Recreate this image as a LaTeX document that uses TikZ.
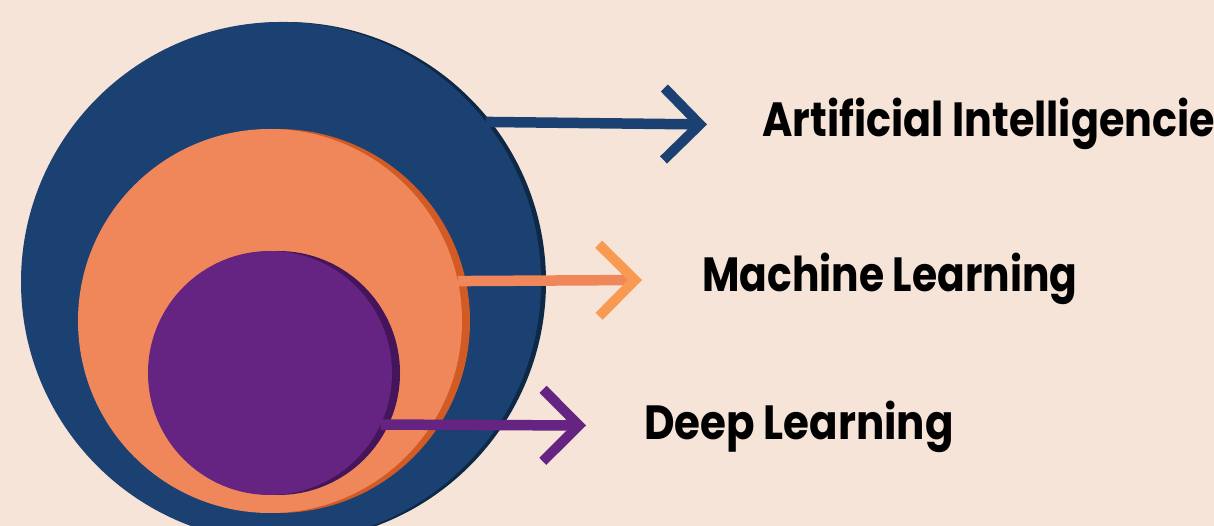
\documentclass[tikz,border=0pt]{standalone}
\usepackage{fontspec}
\setmainfont{Poppins}
\usepackage{xcolor}
\usepackage{tikz}
\usetikzlibrary{arrows.meta}

\definecolor{bgPeach}{HTML}{F6E4D8}
\definecolor{aiBlue}{HTML}{1A4172}
\definecolor{aiShade}{HTML}{0D2946}
\definecolor{mlOrange}{HTML}{F0875A}
\definecolor{mlShade}{HTML}{D25A24}
\definecolor{mlTip}{HTML}{F89A52}
\definecolor{dlPurple}{HTML}{652382}
\definecolor{dlShade}{HTML}{45155B}

\tikzset{
  disc/.style={circle, inner sep=0pt, outer sep=0pt, minimum size=#1},
  barb/.style={line width=10.5pt, -{Straight Barb[length=36pt, width=72pt, line width=10pt, #1]}},
  barb/.default={},
  tagtext/.style={anchor=base west, inner sep=0pt, xscale=#1, transform shape,
    font=\bfseries\fontsize{48}{50}\selectfont},
  tagtext/.default=0.86
}

\begin{document}
\begin{tikzpicture}[x=1pt, y=1pt]
    \fill [bgPeach] (0,0) rectangle (1214,526);
    \useasboundingbox (0,0) rectangle (1214,526);
    \clip (0,0) rectangle (1214,526);

    % outer disc
    \node [disc=520pt, fill=aiShade] (aiS) at (286,244) {};
    \node [disc=520pt, fill=aiBlue] (ai) at (281,244) {};
    % middle disc
    \node [disc=384pt, fill=mlShade] (mlS) at (278,205) {};
    \node [disc=384pt, fill=mlOrange] (ml) at (270,205) {};
    % inner disc
    \node [disc=244pt, fill=dlShade] (dlS) at (278,153) {};
    \node [disc=244pt, fill=dlPurple] (dl) at (270,153) {};

    \coordinate (aiTip) at (707,401.5);
    \coordinate (mlTipC) at (642,246);
    \coordinate (dlTip) at (586,100.5);

    \draw [barb, aiBlue] (ai.38.5) -- (aiTip);
    \draw [barb={color=mlTip}, mlOrange] (ml.12.3) -- (mlTipC);
    \draw [barb, dlPurple] (dl.-25.5) -- (dlTip);

    \node [tagtext=0.86] (aiText) at (762,389) {Artificial Intelligencie};
    \node [tagtext=0.85] (mlText) at (702,234) {Machine Learning};
    \node [tagtext=0.875] (dlText) at (644,86) {Deep Learning};
\end{tikzpicture}
\end{document}
